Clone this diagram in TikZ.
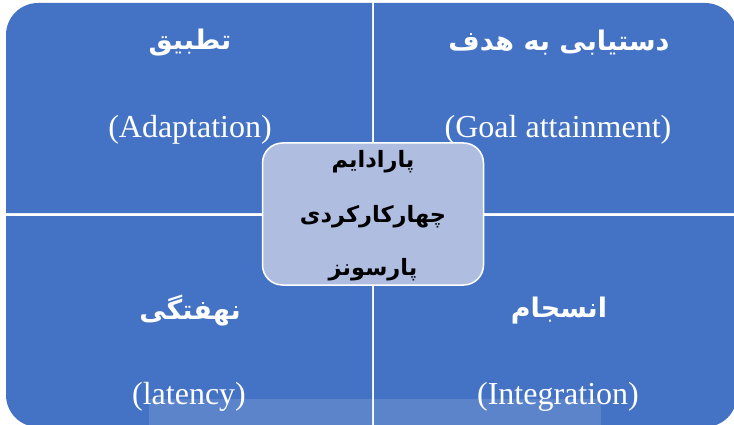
\documentclass[tikz,border=0pt]{standalone}
\usepackage{fontspec}
\setmainfont{Liberation Serif}
\newfontfamily\farsi[Script=Arabic]{DejaVu Sans}
\TeXXeTstate=1
\usepackage{tikz}
\usetikzlibrary{positioning}
\definecolor{quadblue}{HTML}{4472C4}
\definecolor{boxblue}{HTML}{AFBDE1}

\tikzset{
  fatitle/.style={text=white,font=\farsi\bfseries\fontsize{27}{32}\selectfont},
  entitle/.style={text=white,font=\fontsize{32}{38}\selectfont},
  facenter/.style={text=black,font=\farsi\bfseries\fontsize{22.5}{27}\selectfont},
}

\begin{document}
\begin{tikzpicture}[x=1pt,y=-1pt]
      \useasboundingbox(0,0)rectangle(734,425);
      \clip(0,0)rectangle(734,425);
      % four quadrants
      \fill[quadblue](6,213)[rounded corners=32pt]--(6,3)[sharp corners]--(372,3)--(372,213)--cycle;
      \fill[quadblue](374,3)[rounded corners=32pt]--(737,3)[sharp corners]--(737,213)--(374,213)--cycle;
      \fill[quadblue](6,216)[rounded corners=32pt]--(6,427)[sharp corners]--(372,427)--(372,216)--cycle;
      \fill[quadblue](737,216)[rounded corners=32pt]--(737,427)[sharp corners]--(374,427)--(374,216)--cycle;
      \fill[white,opacity=0.13](149,399)rectangle(601,425);
      % labels
      \node[fatitle](adapt)at(190,43){\beginR تطبیق\endR};
      \node[entitle](adapten)at(190,130){(Adaptation)};
      \node[fatitle](goal)at(559,43){\beginR دستیابی به هدف\endR};
      \node[entitle](goalen)at(558,130){(Goal attainment)};
      \node[fatitle](latent)at(190,311){\beginR نهفتگی\endR};
      \node[entitle](latenten)at(189,397){(latency)};
      \node[fatitle](integ)at(559,311){\beginR انسجام\endR};
      \node[entitle](integen)at(558,397){(Integration)};
      % centre
      \node[draw=white,line width=1.5pt,fill=boxblue,rounded corners=20pt,minimum width=221pt,minimum height=142pt](para)at(373,214){};
      \node[facenter](para1)at(373,162){\beginR پارادایم\endR};
      \node[facenter](para2)at(373,217){\beginR چهارکارکردی\endR};
      \node[facenter](para3)at(373,270){\beginR پارسونز\endR};
\end{tikzpicture}
\end{document}
